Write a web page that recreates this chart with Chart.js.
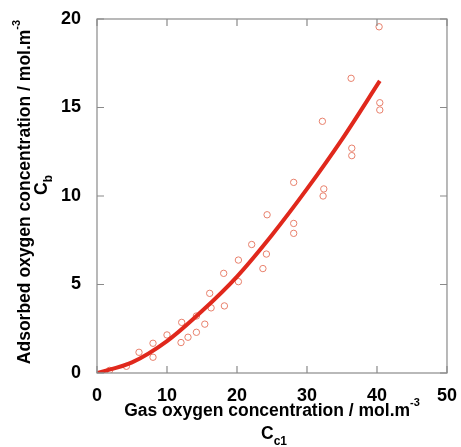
<!DOCTYPE html>
<html lang="en">
<head>
    <meta charset="UTF-8">
    <title>Adsorbed vs gas oxygen concentration</title>
    <script src="https://cdn.jsdelivr.net/npm/chart.js"></script>
    <style>
        html, body { margin: 0; padding: 0; background: #fff; }
        #wrap { width: 461px; height: 447px; }
    </style>
</head>
<body>
    <div id="wrap"><canvas id="oxChart" width="461" height="447"></canvas></div>

    <script>
        // measured points
        const gasConc = [1.8, 4.2, 6.0, 8.0, 8.0, 10.0, 12.1, 12.0, 13.0, 14.2, 14.2, 15.4, 16.1, 16.3, 18.1, 18.2,
            20.2, 20.2, 22.1, 24.3, 24.2, 23.7, 28.1, 28.1, 28.1, 32.4, 32.3, 32.2, 36.4, 36.4, 36.3, 40.3, 40.4, 40.4];
        const adsConc = [0.15, 0.38, 1.17, 1.68, 0.89, 2.15, 2.86, 1.72, 2.02, 3.22, 2.3, 2.76, 4.5, 3.68, 5.63, 3.79,
            6.38, 5.16, 7.26, 8.94, 6.72, 5.9, 10.77, 8.45, 7.89, 10.4, 10.0, 14.22, 12.7, 12.28, 16.65, 19.56, 15.27, 14.86];

        // fitted curve
        const fitX = [0, 5, 10, 15, 20, 25, 30, 35, 40.4];
        const fitY = [0, 0.6, 1.8, 3.5, 5.45, 7.8, 10.4, 13.2, 16.5];

        const xTicks = [0, 10, 20, 30, 40, 50];
        const yTicks = [0, 5, 10, 15, 20];

        const FONT = '"Liberation Sans", Arial, Helvetica, sans-serif';
        const TITLE = 'bold 17.5px ' + FONT;
        const SUP = 'bold 11px ' + FONT;
        const SUB = 'bold 12px ' + FONT;

        const toPts = (xs, ys) => xs.map((x, i) => ({ x: x, y: ys[i] }));

        // frame, inward ticks on all sides, axis titles with sub/superscripts
        const framePlugin = {
            id: 'frame',
            afterDraw(chart) {
                const ctx = chart.ctx;
                const a = chart.chartArea;
                const xs = chart.scales.x, ys = chart.scales.y;
                ctx.save();
                ctx.strokeStyle = '#8a8a8a';
                ctx.lineWidth = 1.2;
                ctx.strokeRect(a.left, a.top, a.right - a.left, a.bottom - a.top);
                ctx.beginPath();
                xTicks.forEach(v => {
                    const p = xs.getPixelForValue(v);
                    ctx.moveTo(p, a.bottom); ctx.lineTo(p, a.bottom - 7);
                    ctx.moveTo(p, a.top); ctx.lineTo(p, a.top + 7);
                });
                yTicks.forEach(v => {
                    const p = ys.getPixelForValue(v);
                    ctx.moveTo(a.left, p); ctx.lineTo(a.left + 7, p);
                    ctx.moveTo(a.right, p); ctx.lineTo(a.right - 7, p);
                });
                ctx.stroke();

                ctx.fillStyle = '#000';
                ctx.textBaseline = 'middle';
                ctx.textAlign = 'left';
                const cx = (a.left + a.right) / 2;

                // x title
                ctx.font = TITLE;
                const xt = 'Gas oxygen concentration / mol.m';
                const w1 = ctx.measureText(xt).width;
                ctx.font = SUP;
                const w2 = ctx.measureText('-3').width;
                let sx = cx - (w1 + w2) / 2;
                ctx.font = TITLE;
                ctx.fillText(xt, sx, 411);
                ctx.font = SUP;
                ctx.fillText('-3', sx + w1, 403);

                ctx.font = TITLE;
                const cw = ctx.measureText('C').width;
                ctx.font = SUB;
                const sw = ctx.measureText('c1').width;
                sx = cx + 2 - (cw + sw) / 2;
                ctx.font = TITLE;
                ctx.fillText('C', sx, 434);
                ctx.font = SUB;
                ctx.fillText('c1', sx + cw, 442);

                // y title (rotated)
                const cy = (a.top + a.bottom) / 2;
                ctx.save();
                ctx.translate(25, cy - 4);
                ctx.rotate(-Math.PI / 2);
                ctx.font = TITLE;
                const yt = 'Adsorbed oxygen concentration / mol.m';
                const h1 = ctx.measureText(yt).width;
                ctx.font = SUP;
                const h2 = ctx.measureText('-3').width;
                let sy = -(h1 + h2) / 2;
                ctx.font = TITLE;
                ctx.fillText(yt, sy, 0);
                ctx.font = SUP;
                ctx.fillText('-3', sy + h1, -8);
                ctx.restore();

                ctx.save();
                ctx.translate(42, 185);
                ctx.rotate(-Math.PI / 2);
                ctx.font = TITLE;
                const bw = ctx.measureText('C').width;
                ctx.font = SUB;
                const bw2 = ctx.measureText('b').width;
                sy = -(bw + bw2) / 2;
                ctx.font = TITLE;
                ctx.fillText('C', sy, 0);
                ctx.font = SUB;
                ctx.fillText('b', sy + bw, 7);
                ctx.restore();

                ctx.restore();
            }
        };

        const ctx = document.getElementById('oxChart').getContext('2d');
        const oxChart = new Chart(ctx, {
            type: 'scatter',
            data: {
                datasets: [{
                    label: 'Fit',
                    type: 'line',
                    data: toPts(fitX, fitY),
                    borderColor: '#e0281c',
                    borderWidth: 4,
                    pointRadius: 0,
                    fill: false,
                    cubicInterpolationMode: 'monotone'
                }, {
                    label: 'Measured',
                    data: toPts(gasConc, adsConc),
                    pointStyle: 'circle',
                    pointRadius: 3.2,
                    pointBorderWidth: 1,
                    pointBorderColor: '#e8806c',
                    pointBackgroundColor: 'rgba(255,255,255,0)'
                }]
            },
            options: {
                responsive: false,
                animation: false,
                layout: { padding: { left: 0, right: 10, top: 19, bottom: 0 } },
                plugins: {
                    legend: { display: false },
                    tooltip: { enabled: false }
                },
                scales: {
                    x: {
                        type: 'linear',
                        min: 0,
                        max: 50,
                        afterBuildTicks: s => { s.ticks = xTicks.map(v => ({ value: v })); },
                        afterFit: s => { s.height = 74; },
                        grid: { display: false },
                        border: { display: false },
                        ticks: {
                            color: '#000',
                            padding: 4,
                            maxRotation: 0,
                            font: { family: FONT, weight: 'bold', size: 18 }
                        }
                    },
                    y: {
                        type: 'linear',
                        min: 0,
                        max: 20,
                        afterBuildTicks: s => { s.ticks = yTicks.map(v => ({ value: v })); },
                        afterFit: s => { s.width = 97; },
                        grid: { display: false },
                        border: { display: false },
                        ticks: {
                            color: '#000',
                            padding: 8,
                            font: { family: FONT, weight: 'bold', size: 18 }
                        }
                    }
                }
            },
            plugins: [framePlugin]
        });
    </script>
</body>
</html>
